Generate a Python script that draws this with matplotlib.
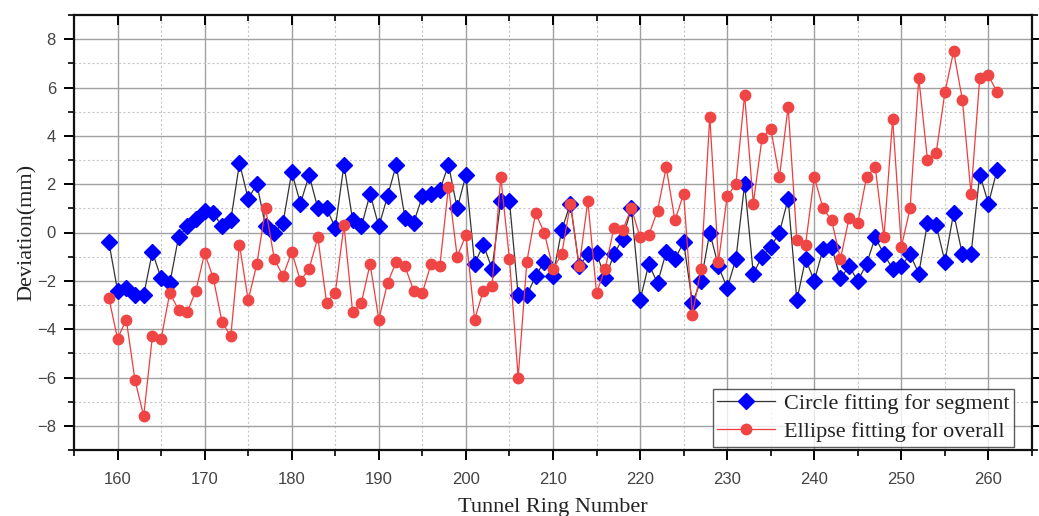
import numpy as np
import matplotlib
matplotlib.use("Agg")
import matplotlib.pyplot as plt
from matplotlib.ticker import MultipleLocator

rings = list(range(159, 262))

circle_segment = [
    -0.4, -2.4, -2.3, -2.6, -2.6, -0.8, -1.9, -2.1, -0.2, 0.25,
    0.55, 0.9, 0.8, 0.25, 0.5, 2.87, 1.4, 2.0, 0.25, 0.0,
    0.4, 2.5, 1.2, 2.37, 1.0, 1.0, 0.2, 2.8, 0.5, 0.25,
    1.6, 0.25, 1.5, 2.8, 0.6, 0.4, 1.5, 1.6, 1.75, 2.8,
    1.0, 2.37, -1.3, -0.5, -1.5, 1.3, 1.3, -2.6, -2.6, -1.8,
    -1.2, -1.8, 0.1, 1.2, -1.4, -0.9, -0.85, -1.9, -0.9, -0.25,
    1.0, -2.8, -1.3, -2.1, -0.8, -1.1, -0.4, -2.9, -2.0, 0.0,
    -1.4, -2.3, -1.1, 2.0, -1.7, -1.0, -0.6, 0.0, 1.4, -2.8,
    -1.1, -2.0, -0.7, -0.6, -1.9, -1.4, -2.0, -1.3, -0.2, -0.9,
    -1.5, -1.4, -0.9, -1.7, 0.4, 0.3, -1.2, 0.8, -0.9, -0.9,
    2.4, 1.2, 2.6,
]

ellipse_overall = [
    -2.7, -4.4, -3.6, -6.1, -7.6, -4.3, -4.4, -2.5, -3.2, -3.3,
    -2.4, -0.85, -1.9, -3.7, -4.3, -0.5, -2.8, -1.3, 1.0, -1.1,
    -1.8, -0.8, -2.0, -1.5, -0.2, -2.9, -2.5, 0.3, -3.3, -2.9,
    -1.3, -3.6, -2.1, -1.2, -1.4, -2.4, -2.5, -1.3, -1.4, 1.9,
    -1.0, -0.1, -3.6, -2.4, -2.2, 2.3, -1.1, -6.0, -1.2, 0.8,
    0.0, -1.5, -0.9, 1.2, -1.4, 1.3, -2.5, -1.5, 0.2, 0.1,
    1.0, -0.2, -0.1, 0.9, 2.7, 0.5, 1.6, -3.4, -1.5, 4.8,
    -1.2, 1.5, 2.0, 5.7, 1.2, 3.9, 4.3, 2.3, 5.2, -0.3,
    -0.5, 2.3, 1.0, 0.5, -1.1, 0.6, 0.4, 2.3, 2.7, -0.2,
    4.7, -0.6, 1.0, 6.4, 3.0, 3.3, 5.8, 7.5, 5.5, 1.6,
    6.4, 6.5, 5.8,
]

series_labels = ["Circle fitting for segment", "Ellipse fitting for overall"]
x_ticks = list(range(160, 261, 10))
y_ticks = list(range(-8, 9, 2))

serif = ["Liberation Serif", "DejaVu Serif"]
sans = ["Liberation Sans", "DejaVu Sans"]

fig = plt.figure(figsize=(10.39, 5.16), dpi=100)
ax = fig.add_axes([74 / 1039, 1 - 450 / 516, (1032 - 74) / 1039, (450 - 15) / 516])

ax.plot(rings, circle_segment, color="#333333", lw=0.9, marker="D",
        markersize=8.5, markerfacecolor="#0000ff", markeredgecolor="#0000ff",
        label=series_labels[0], zorder=3)
ax.plot(rings, ellipse_overall, color="#f03c3c", lw=0.9, marker="o",
        markersize=7.5, markerfacecolor="#f04545", markeredgecolor="#f04545",
        label=series_labels[1], zorder=4)

ax.set_xlim(155, 265)
ax.set_ylim(-9, 9)
ax.set_xticks(x_ticks)
ax.set_yticks(y_ticks)
ax.xaxis.set_minor_locator(MultipleLocator(5))
ax.yaxis.set_minor_locator(MultipleLocator(1))

ax.grid(which="major", color="#a0a0a0", lw=1.0, ls="-", zorder=0)
ax.grid(which="minor", color="#c8c8c8", lw=0.8, ls=(0, (2, 2)), zorder=0)

for s in ax.spines.values():
    s.set_linewidth(1.6)
    s.set_color("#111111")

ax.tick_params(axis="y", which="major", direction="out", length=7, width=1.4,
               labelsize=12, labelcolor="#444444", right=True, pad=6)
ax.tick_params(axis="y", which="minor", direction="out", length=4, width=1.2,
               right=True)
ax.tick_params(axis="x", which="major", direction="in", length=7, width=1.4,
               labelsize=12, labelcolor="#444444", top=True, bottom=True,
               pad=16)
ax.tick_params(axis="x", which="minor", direction="in", length=4, width=1.2,
               top=True, bottom=True)
for lbl in ax.get_xticklabels() + ax.get_yticklabels():
    lbl.set_family(sans)

# bottom ticks point outward, top ticks inward
for t in ax.xaxis.get_major_ticks() + ax.xaxis.get_minor_ticks():
    t.tick1line.set_marker(3)
    t.tick2line.set_marker(3)

ax.set_xlabel("Tunnel Ring Number", family=serif, fontsize=16, color="#222222",
              labelpad=8)
ax.set_ylabel("Deviation(mm)", family=serif, fontsize=16, color="#222222",
              labelpad=0)

leg = ax.legend(loc="lower right", bbox_to_anchor=(0.981, 0.008),
                prop={"family": serif, "size": 16},
                frameon=True, fancybox=False, edgecolor="#333333",
                borderpad=0.2, labelspacing=0.35, handlelength=2.6,
                handletextpad=0.4, borderaxespad=0.0)
leg.get_frame().set_linewidth(1.0)
for t in leg.get_texts():
    t.set_color("#222222")

fig.savefig("out.png", dpi=100)
